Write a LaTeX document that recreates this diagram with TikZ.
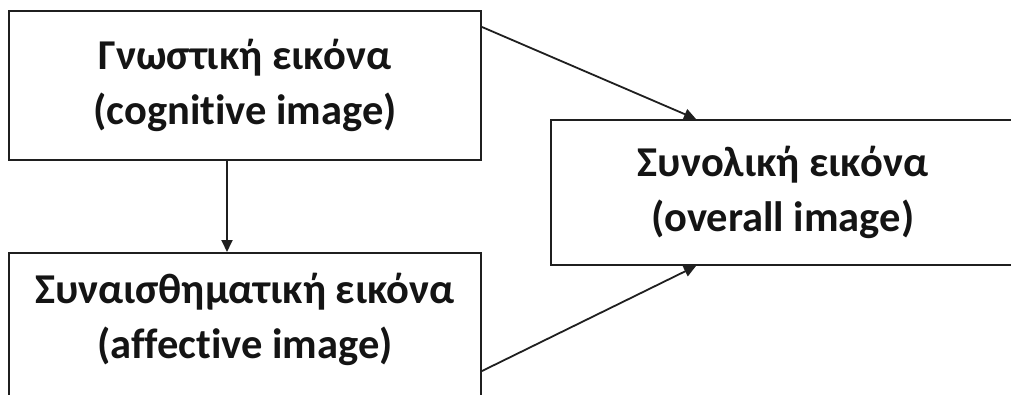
\documentclass[tikz,border=0pt]{standalone}
\usepackage{fontspec}
\setmainfont{Carlito}[Ligatures={NoCommon}, RawFeature={-liga;-clig;-dlig}]
\usetikzlibrary{arrows.meta}
\begin{document}
\begin{tikzpicture}[x=1pt,y=-1pt,
  box/.style={draw=black!88, line width=2pt, rectangle, inner sep=0pt, fill=white},
  lbl/.style={align=center, font=\fontsize{42.5}{55}\selectfont\bfseries, text=black!92},
  arr/.style={draw=black!88, line width=1.8pt, -{Triangle[length=12pt,width=11pt]}}]
\useasboundingbox (0,0) rectangle (1011,394);
\clip (0,0) rectangle (1011,394);
\fill[white] (0,0) rectangle (1011,394);
\node[box, lbl, minimum width=472pt, minimum height=149pt] (cog) at (245,85.5) {Γνωστική εικόνα\\(cognitive image)};
\node[box, minimum width=472pt, minimum height=167pt] (aff) at (245,336.5) {};
\node[lbl] (afft) at (245,319) {Συναισθηματική εικόνα\\(affective image)};
\node[box, lbl, minimum width=464pt, minimum height=145pt] (tot) at (783,192.5) {Συνολική εικόνα\\(overall image)};
\draw[arr] ([xshift=-18pt]cog.south) -- ([xshift=-18pt]aff.north);
\draw[arr] ([yshift=-17pt]cog.north east) -- ([xshift=146pt]tot.north west);
\draw[arr] ([yshift=-119pt]aff.north east) -- ([xshift=146pt]tot.south west);
\end{tikzpicture}
\end{document}
